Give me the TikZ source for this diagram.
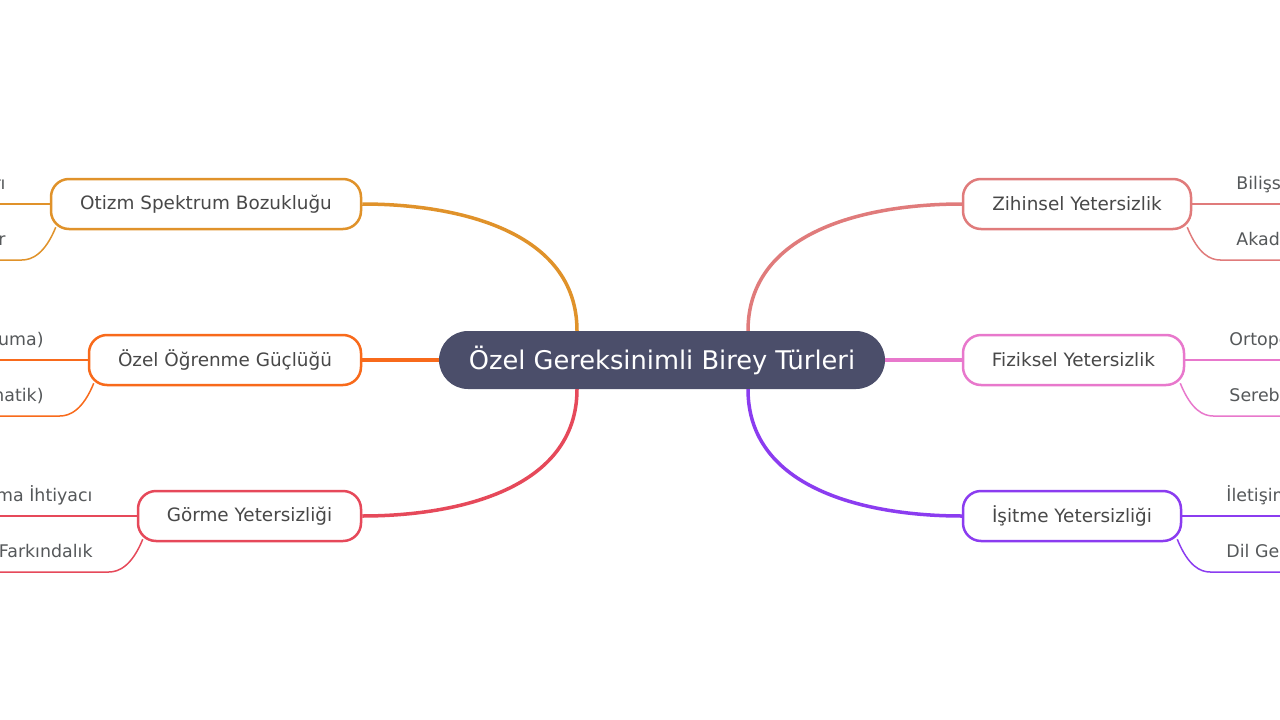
\documentclass[tikz,border=0pt]{standalone}
\usepackage{fontspec}
\setmainfont{DejaVu Sans}
\usetikzlibrary{calc}
\pgfdeclarelayer{bg}
\pgfsetlayers{bg,main}
\definecolor{cRoot}{RGB}{75,78,106}
\definecolor{cOt}{RGB}{224,146,42}
\definecolor{cOz}{RGB}{248,106,27}
\definecolor{cGo}{RGB}{230,73,90}
\definecolor{cZi}{RGB}{224,123,123}
\definecolor{cFi}{RGB}{232,120,204}
\definecolor{cIs}{RGB}{139,60,240}
\definecolor{cTxt}{RGB}{72,72,72}
\definecolor{cLeaf}{RGB}{85,88,90}
\begin{document}
\begin{tikzpicture}[x=1pt,y=-1pt,
  rootbox/.style={fill=cRoot, draw=none, rounded corners=29pt, minimum width=446pt, minimum height=58pt, inner sep=0pt, text=white, font=\fontsize{25.7}{30}\selectfont},
  branchbox/.style={fill=white, line width=2.5pt, rounded corners=18pt, minimum height=50pt, inner sep=0pt, text=cTxt, font=\fontsize{18.4}{22}\selectfont},
  conn/.style={line width=3.5pt},
  leafline/.style={line width=1.5pt},
  leaftext/.style={inner sep=0pt, text=cLeaf, font=\fontsize{17.4}{20}\selectfont}
]
\useasboundingbox (0,0) rectangle (1280,720);
\clip (0,0) rectangle (1280,720);
\begin{pgfonlayer}{bg}
\fill[white] (0,0) rectangle (1280,720);
\end{pgfonlayer}

\node[rootbox] (root) at (662,360) {Özel Gereksinimli Birey Türleri};
\node[branchbox, draw=cOt, minimum width=310pt] (ot) at (206,204) {Otizm Spektrum Bozukluğu};
\node[branchbox, draw=cOz, minimum width=272pt] (oz) at (225,360) {Özel Öğrenme Güçlüğü};
\node[branchbox, draw=cGo, minimum width=223pt] (go) at (249.5,516) {Görme Yetersizliği};
\node[branchbox, draw=cZi, minimum width=228pt] (zi) at (1077,204) {Zihinsel Yetersizlik};
\node[branchbox, draw=cFi, minimum width=221pt] (fi) at (1073.5,360) {Fiziksel Yetersizlik};
\node[branchbox, draw=cIs, minimum width=218pt] (is) at (1072,516) {İşitme Yetersizliği};

\path
  ($(root.north)+(-85,0)$) coordinate (rNL)
  ($(root.south)+(-85,0)$) coordinate (rSL)
  ($(root.north)+(86,0)$) coordinate (rNR)
  ($(root.south)+(86,0)$) coordinate (rSR);

\foreach \n in {ot,oz,go}{
  \coordinate (\n-a) at ($(\n.west)+(-200,0)$);
  \coordinate (\n-b) at ($(\n.west)+(-200,56)$);
}
\foreach \n in {zi,fi,is}{
  \coordinate (\n-a) at ($(\n.east)+(200,0)$);
  \coordinate (\n-b) at ($(\n.east)+(200,56)$);
}

\begin{pgfonlayer}{bg}
\draw[conn, cOt] (rNL) .. controls +(0,-100) and ($(ot.east)+(95,0)$) .. (ot.east);
\draw[conn, cGo] (rSL) .. controls +(0,100) and ($(go.east)+(95,0)$) .. (go.east);
\draw[conn, cOz] (root.west) -- (oz.east);
\draw[conn, cZi] (rNR) .. controls +(0,-100) and ($(zi.west)+(-95,0)$) .. (zi.west);
\draw[conn, cIs] (rSR) .. controls +(0,100) and ($(is.west)+(-95,0)$) .. (is.west);
\draw[conn, cFi] (root.east) -- (fi.west);
\foreach \n/\c in {ot/cOt,oz/cOz,go/cGo}{
  \draw[leafline, \c] (\n.west) -- (\n-a);
  \draw[leafline, \c] ($(\n.south west)+(6,-3)$) .. controls +(-11,27) and +(10,0) .. ($(\n.west)+(-28,56)$) -- (\n-b);
}
\foreach \n/\c in {zi/cZi,fi/cFi,is/cIs}{
  \draw[leafline, \c] (\n.east) -- (\n-a);
  \draw[leafline, \c] ($(\n.south east)+(-5,-3)$) .. controls +(11,27) and +(-10,0) .. ($(\n.east)+(28,56)$) -- (\n-b);
}
\end{pgfonlayer}

\node[leaftext, anchor=base east] (ot1) at ($(ot.west)+(-44,-15)$) {rı};
\node[leaftext, anchor=base east] (ot2) at ($(ot.west)+(-44,41)$) {r};
\node[leaftext, anchor=base east] (oz1) at ($(oz.west)+(-44,-15)$) {uma)};
\node[leaftext, anchor=base east] (oz2) at ($(oz.west)+(-44,41)$) {matik)};
\node[leaftext, anchor=base east] (go1) at ($(go.west)+(-44,-15)$) {ma İhtiyacı};
\node[leaftext, anchor=base east] (go2) at ($(go.west)+(-44,41)$) {Farkındalık};
\node[leaftext, anchor=base west] (zi1) at ($(zi.east)+(44,-15)$) {Bilişs};
\node[leaftext, anchor=base west] (zi2) at ($(zi.east)+(44,41)$) {Akade};
\node[leaftext, anchor=base west] (fi1) at ($(fi.east)+(44,-15)$) {Ortope};
\node[leaftext, anchor=base west] (fi2) at ($(fi.east)+(44,41)$) {Sereb};
\node[leaftext, anchor=base west] (is1) at ($(is.east)+(44,-15)$) {İletişim};
\node[leaftext, anchor=base west] (is2) at ($(is.east)+(44,41)$) {Dil Ge};
\end{tikzpicture}
\end{document}
